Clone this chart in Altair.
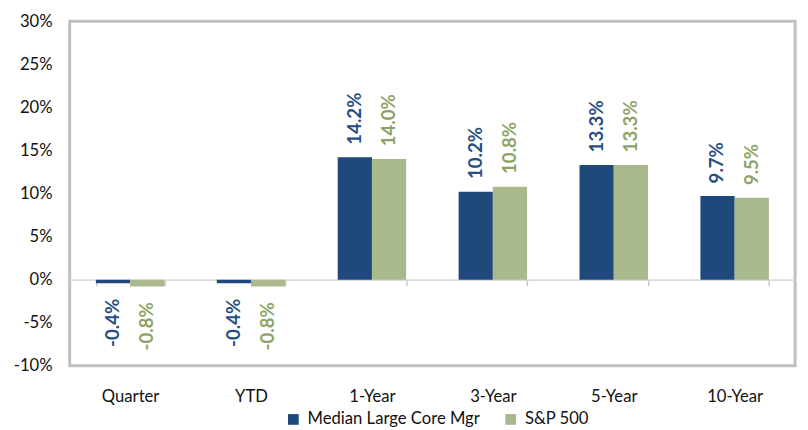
import altair as alt
import pandas as pd

categories = ["Quarter", "YTD", "1-Year", "3-Year", "5-Year", "10-Year"]
series = ["Median Large Core Mgr", "S&P 500"]
median_vals = [-0.4, -0.4, 14.2, 10.2, 13.3, 9.7]
sp500_vals = [-0.8, -0.8, 14.0, 10.8, 13.3, 9.5]
y_ticks = [-10, -5, 0, 5, 10, 15, 20, 25, 30]

bar_colors = ["#1F497D", "#A9B98B"]
text_colors = ["#264E82", "#8CA366"]

rows = []
for i, c in enumerate(categories):
    rows.append({"cat": c, "series": series[0], "v": median_vals[i], "tc": text_colors[0]})
    rows.append({"cat": c, "series": series[1], "v": sp500_vals[i], "tc": text_colors[1]})
df = pd.DataFrame(rows)

FONT = "Lato"
LAB = "(datum.v < 0 ? '-' : '') + format(abs(datum.v), '.1f') + '%'"

x = alt.X(
    "cat:N",
    sort=categories,
    title=None,
    scale=alt.Scale(paddingInner=0.434, paddingOuter=0.217),
    axis=alt.Axis(
        offset=-88,
        domainColor="#D0D0D0",
        domainWidth=1.2,
        tickColor="#C8C8C8",
        tickWidth=1.5,
        tickSize=6,
        tickBand="extent",
        labelAngle=0,
        labelPadding=105,
        labelFont=FONT,
        labelFontSize=17,
        labelColor="#111111",
    ),
)
y = alt.Y(
    "v:Q",
    title=None,
    scale=alt.Scale(domain=[-10, 30], nice=False),
    axis=alt.Axis(
        values=y_ticks,
        labelExpr="datum.value + '%'",
        domain=False,
        ticks=False,
        grid=False,
        labelPadding=18,
        labelFont=FONT,
        labelFontSize=17,
        labelColor="#111111",
    ),
)

base = alt.Chart(df).encode(
    x=x,
    xOffset=alt.XOffset("series:N", sort=series),
)

bars = base.mark_bar(size=35).encode(
    y=y,
    color=alt.Color(
        "series:N",
        sort=series,
        scale=alt.Scale(domain=series, range=bar_colors),
        legend=alt.Legend(
            title=None,
            orient="none",
            direction="horizontal",
            legendX=220,
            legendY=398,
            symbolType="square",
            symbolSize=120,
            symbolStrokeWidth=0,
            labelFont=FONT,
            labelFontSize=17,
            labelColor="#111111",
            labelLimit=0,
            columnPadding=22,
            labelOffset=6,
        ),
    ),
)

pos_text = base.transform_filter("datum.v >= 0").transform_calculate(lab=LAB).mark_text(
    angle=270, align="left", baseline="middle", dx=13, font=FONT, fontSize=19, fontWeight="bold"
).encode(y=alt.Y("v:Q"), text="lab:N", color=alt.Color("tc:N", scale=None))

neg_text = base.transform_filter("datum.v < 0").transform_calculate(lab=LAB).mark_text(
    angle=270, align="right", baseline="middle", dx=-16, font=FONT, fontSize=19, fontWeight="bold"
).encode(y=alt.Y("v:Q"), text="lab:N", color=alt.Color("tc:N", scale=None))

chart = (
    alt.layer(bars, pos_text, neg_text)
    .properties(
        width=741,
        height=352,
        padding={"left": 63, "top": 9, "right": 5, "bottom": 60},
        autosize=alt.AutoSizeParams(type="none"),
    )
    .configure_view(stroke="#BFBFBF", strokeWidth=3)
)

chart.save("out.html", embed_options={"renderer": "svg", "actions": False})
